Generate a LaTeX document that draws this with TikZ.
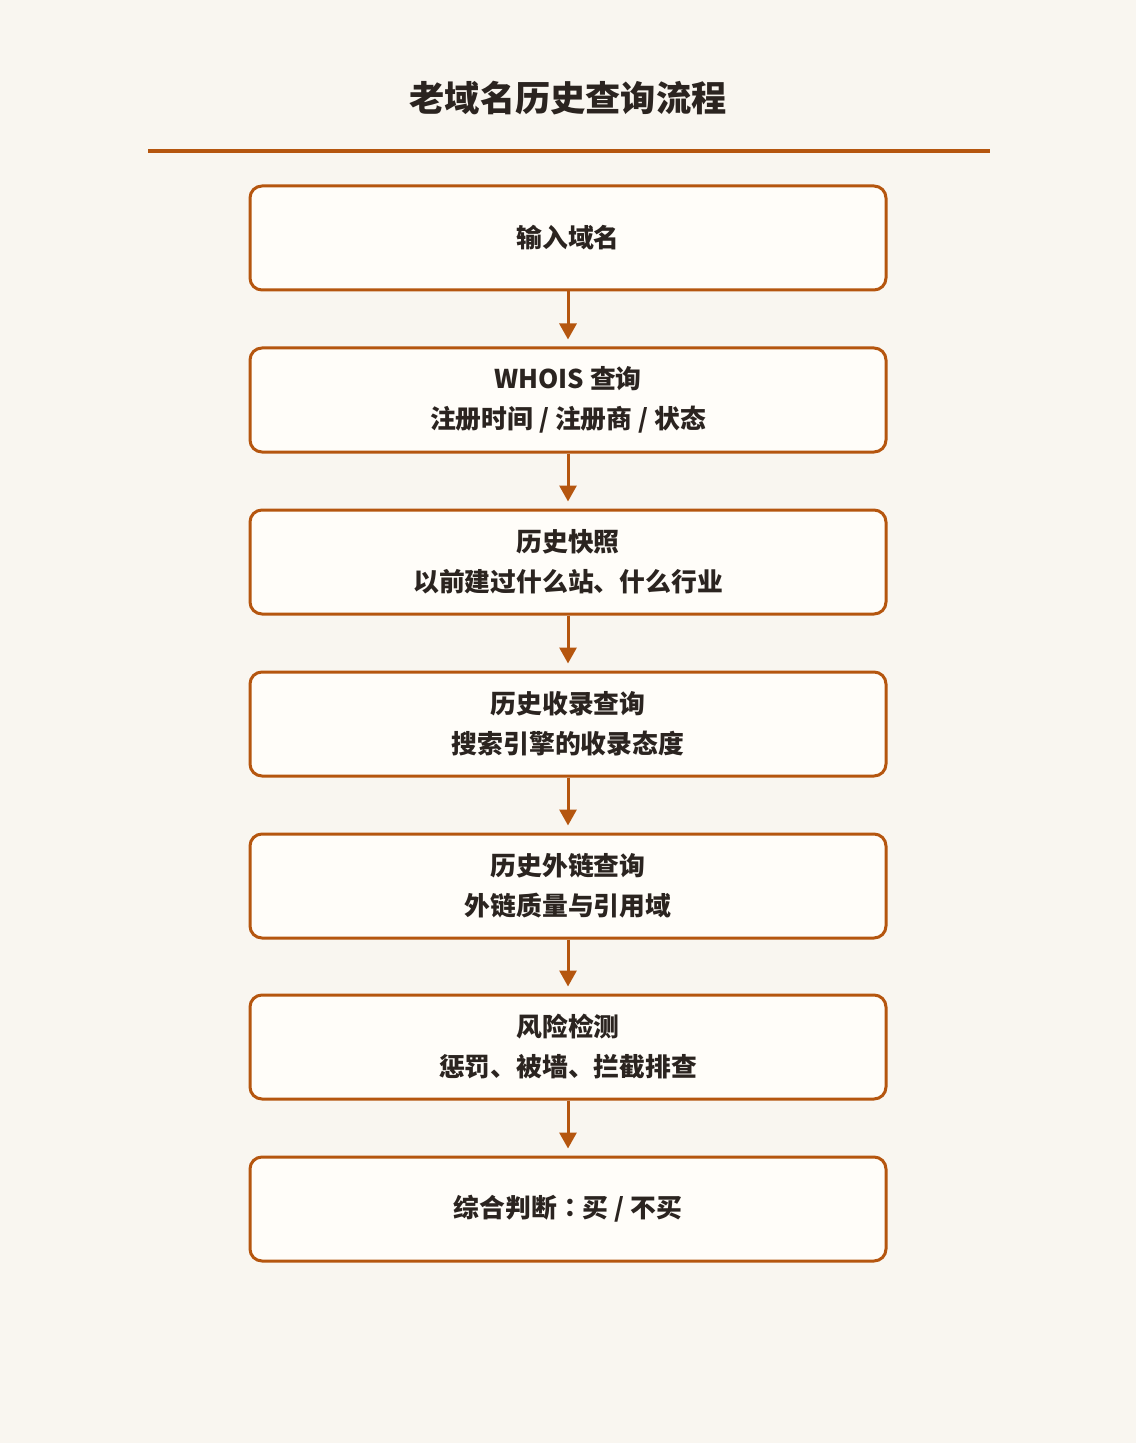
\documentclass[tikz,border=0pt]{standalone}
\usepackage{fontspec}
\setmainfont{Noto Sans CJK SC}
\newfontfamily\tcfont{Noto Sans CJK TC}
\usetikzlibrary{arrows.meta}
\definecolor{bgc}{HTML}{F9F6F0}
\definecolor{boxfill}{HTML}{FFFDF9}
\definecolor{accent}{HTML}{B5560F}
\definecolor{txt}{HTML}{2B2420}
\tikzset{
  stepbox/.style={draw=accent, line width=1.5pt, fill=boxfill, rounded corners=6pt,
    minimum width=318pt, minimum height=52pt, align=center, text=txt,
    font=\fontsize{12.9pt}{20pt}\selectfont\bfseries, inner sep=0pt},
  flow/.style={draw=accent, line width=1.5pt, -{Triangle[length=8pt,width=8.5pt]}, shorten >=3.5pt}
}
\begin{document}
\begin{tikzpicture}[x=0.5pt,y=-0.5pt]
\fill[bgc] (0,0) rectangle (1136,1443);
\useasboundingbox (0,0) rectangle (1136,1443);
\node[text=txt, font=\fontsize{17.6pt}{21pt}\selectfont\bfseries] (title) at (568,98) {老域名历史查询流程};
\coordinate (rl) at (148,151);
\coordinate (rr) at (990,151);
\draw[accent, line width=1.8pt] (rl) -- (rr);
\node[stepbox] (s1) at (568,238) {输入域名};
\node[stepbox] (s2) at (568,400) {WHOIS 查询\\注册时间 / 注册商 / 状态};
\node[stepbox] (s3) at (568,562) {历史快照\\以前建过什么站、什么行业};
\node[stepbox] (s4) at (568,724) {历史收录查询\\搜索引擎的收录态度};
\node[stepbox] (s5) at (568,886) {历史外链查询\\外链质量与引用域};
\node[stepbox] (s6) at (568,1047) {风险检测\\惩罚、被墙、拦截排查};
\node[stepbox] (s7) at (568,1209) {综合判断{\tcfont\bfseries ：}买 / 不买};
\draw[flow] (s1) -- (s2);
\draw[flow] (s2) -- (s3);
\draw[flow] (s3) -- (s4);
\draw[flow] (s4) -- (s5);
\draw[flow] (s5) -- (s6);
\draw[flow] (s6) -- (s7);
\end{tikzpicture}
\end{document}
